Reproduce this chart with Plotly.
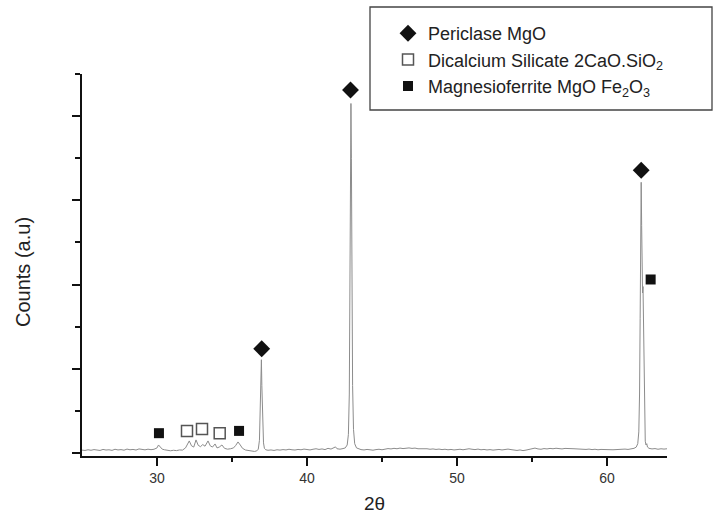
import plotly.graph_objects as go

# ---- XRD trace (2-theta in degrees, intensity in counts) ----
two_theta = [
    25.0, 25.2, 25.4, 25.6, 25.8, 26.0, 26.2, 26.4, 26.6, 26.8, 27.0, 27.2, 27.4, 27.6, 27.8,
    28.0, 28.2, 28.4, 28.6, 28.8, 29.0, 29.2, 29.4, 29.6, 29.8,
    30.0, 30.1, 30.2, 30.35, 30.5, 30.7, 30.9, 31.1, 31.3, 31.5, 31.7, 31.9, 32.05, 32.15,
    32.3, 32.45, 32.6, 32.75, 32.9, 33.05, 33.2, 33.4, 33.55, 33.7, 33.87, 34.0, 34.15, 34.33,
    34.5, 34.7, 34.9, 35.1, 35.25, 35.4, 35.55, 35.7, 35.9, 36.1, 36.3, 36.5, 36.65, 36.75,
    36.83, 36.88, 36.92, 36.96, 36.99, 37.02, 37.06, 37.1, 37.16, 37.25, 37.4, 37.6,
    37.8, 38.0, 38.2, 38.4, 38.6, 38.8, 39.0, 39.2, 39.4, 39.6, 39.8, 40.0, 40.2, 40.4, 40.6,
    40.8, 41.0, 41.2, 41.4, 41.6, 41.8, 41.9, 42.0, 42.2, 42.4, 42.55, 42.68, 42.76, 42.82,
    42.86, 42.9, 42.93, 42.96, 43.0, 43.04, 43.1, 43.18, 43.3, 43.45,
    43.6, 43.8, 44.0, 44.2, 44.4, 44.6, 44.8, 45.0, 45.2, 45.4, 45.6, 45.8, 46.0, 46.2, 46.4,
    46.6, 46.8, 47.0, 47.2, 47.4, 47.6, 47.8, 48.0, 48.2, 48.4, 48.6, 48.8, 49.0, 49.2, 49.4,
    49.6, 49.8, 50.0, 50.2, 50.4, 50.6, 50.8, 51.0, 51.2, 51.4, 51.6, 51.8, 52.0, 52.2, 52.4,
    52.6, 52.8, 53.0, 53.2, 53.4, 53.6, 53.8, 54.0, 54.2, 54.4, 54.6, 54.8, 55.0, 55.2, 55.4,
    55.6, 55.8, 56.0, 56.2, 56.4, 56.6, 56.8, 57.0, 57.2, 57.4, 57.6, 57.8, 58.0, 58.2, 58.4,
    58.6, 58.8, 59.0, 59.2, 59.4, 59.6, 59.8, 60.0, 60.2, 60.4, 60.6, 60.8, 61.0, 61.2, 61.4,
    61.6, 61.8, 61.95, 62.05, 62.12, 62.17, 62.21, 62.25, 62.28, 62.31, 62.34, 62.37, 62.4,
    62.43, 62.46, 62.5, 62.55, 62.6, 62.65, 62.7, 62.8, 63.0, 63.2, 63.4, 63.6, 63.8, 64.0,
]
counts = [
    34, 30, 38, 32, 40, 36, 30, 42, 35, 38, 31, 44, 36, 40, 33,
    46, 38, 42, 35, 48, 40, 37, 45, 39, 44,
    60, 95, 70, 45, 38, 30, 26, 32, 28, 36, 34, 60, 120, 143,
    85, 70, 155, 90, 75, 100, 80, 143, 85, 70, 107, 60, 70, 95,
    55, 45, 50, 60, 90, 131, 95, 55, 35, 28, 22, 18, 25, 45,
    150, 500, 950, 1107, 800, 548, 300, 120, 55, 38, 32, 36,
    30, 38, 34, 40, 36, 44, 38, 35, 42, 38, 46, 40, 36, 44, 50,
    42, 48, 40, 55, 46, 62, 72, 50, 45, 52, 60, 95, 220, 700,
    1800, 3600, 4150, 3500, 1900, 800, 280, 110, 60, 45,
    40, 36, 42, 38, 33, 40, 44, 38, 46, 52, 48, 55, 50, 58, 52,
    56, 60, 54, 58, 50, 52, 46, 50, 44, 48, 42, 46, 40, 44, 38,
    42, 36, 40, 44, 38, 42, 50, 44, 40, 46, 38, 42, 36, 40, 34,
    38, 42, 36, 40, 46, 40, 34, 30, 36, 28, 34, 42, 50, 58, 48,
    44, 52, 48, 54, 50, 56, 52, 48, 54, 50, 46, 50, 48, 44, 48,
    42, 46, 40, 44, 38, 42, 40, 36, 42, 38, 40, 44, 40, 46, 42,
    48, 55, 70, 110, 250, 700, 1600, 2700, 3214, 2700, 2000, 1900, 1976,
    1600, 900, 350, 140, 95, 110, 70, 55, 48, 52, 44, 50, 46, 50,
]

# ---- phase identification markers ----
periclase_x = [36.98, 42.9, 62.28]
periclase_y = [1238, 4310, 3357]
dicalcium_x = [32.0, 33.0, 34.18]
dicalcium_y = [262, 286, 235]
magnesio_x = [30.13, 35.47, 62.91]
magnesio_y = [235, 262, 2060]

legend_names = [
    "Periclase MgO",
    "Dicalcium Silicate 2CaO.SiO<sub>2</sub>",
    "Magnesioferrite MgO Fe<sub>2</sub>O<sub>3</sub>",
]

x_ticks = [30, 40, 50, 60]
x_minor = [35, 45, 55]
y_ticks = [0, 1000, 2000, 3000, 4000]
y_minor = [500, 1500, 2500, 3500, 4500]

FONT = "Liberation Sans, Arial, sans-serif"

fig = go.Figure()
fig.add_trace(go.Scatter(
    x=two_theta, y=counts, mode="lines",
    line=dict(color="#8c8c8c", width=1), showlegend=False, hoverinfo="skip",
))
fig.add_trace(go.Scatter(
    x=periclase_x, y=periclase_y, mode="markers", name=legend_names[0],
    marker=dict(symbol="diamond", size=13, color="#111111"), legendgroup="a",
))
fig.add_trace(go.Scatter(
    x=dicalcium_x, y=dicalcium_y, mode="markers", name=legend_names[1],
    marker=dict(symbol="square", size=11, color="white",
                line=dict(color="#555555", width=1.5)), legendgroup="b",
))
fig.add_trace(go.Scatter(
    x=magnesio_x, y=magnesio_y, mode="markers", name=legend_names[2],
    marker=dict(symbol="square", size=10, color="#111111"), legendgroup="c",
))

L, R, T, B = 82, 50, 74, 61
W, H = 717, 517
pw, ph = W - L - R, H - T - B

def px(xp):
    return (xp - L) / pw

def py(yp):
    return (H - B - yp) / ph

fig.update_layout(
    width=W, height=H,
    margin=dict(l=L, r=R, t=T, b=B),
    paper_bgcolor="white", plot_bgcolor="white",
    font=dict(family=FONT, color="#222222"),
    showlegend=True,
    legend=dict(
        x=px(388), y=py(15), xanchor="left", yanchor="top",
        bgcolor="rgba(0,0,0,0)", borderwidth=0,
        font=dict(family=FONT, size=18, color="#222222"),
        tracegroupgap=0, itemsizing="trace",
    ),
    shapes=[dict(
        type="rect", xref="paper", yref="paper",
        x0=px(370), x1=px(712), y0=py(110), y1=py(7),
        line=dict(color="#444444", width=1.3), fillcolor="rgba(0,0,0,0)",
    )],
    annotations=[
        dict(text="Counts (a.u)", xref="paper", yref="paper", x=px(23), y=py(272),
             textangle=-90, showarrow=False, xanchor="center", yanchor="middle",
             font=dict(family=FONT, size=20, color="#222222")),
        dict(text="2θ", xref="paper", yref="paper", x=px(374), y=py(504),
             showarrow=False, xanchor="center", yanchor="middle",
             font=dict(family=FONT, size=19, color="#222222")),
    ],
)
fig.update_xaxes(
    range=[25, 64], showgrid=False, zeroline=False,
    showline=True, linecolor="#111111", linewidth=2,
    tickmode="array", tickvals=x_ticks, ticks="outside", ticklen=8, tickwidth=2,
    tickcolor="#111111", tickfont=dict(family=FONT, size=14, color="#333333"),
    minor=dict(tickvals=x_minor, ticks="outside", ticklen=4, tickwidth=2, tickcolor="#111111"),
)
fig.update_yaxes(
    range=[-36, 4500], showgrid=False, zeroline=False,
    showline=True, linecolor="#111111", linewidth=2,
    tickmode="array", tickvals=y_ticks, ticks="outside", ticklen=8, tickwidth=2,
    tickcolor="#111111", showticklabels=False,
    minor=dict(tickvals=y_minor, ticks="outside", ticklen=5, tickwidth=2, tickcolor="#111111"),
)

fig.write_html(
    "out.html",
    config={"displayModeBar": False},
    post_script="document.body.style.margin='0';document.body.style.overflow='hidden';",
)
